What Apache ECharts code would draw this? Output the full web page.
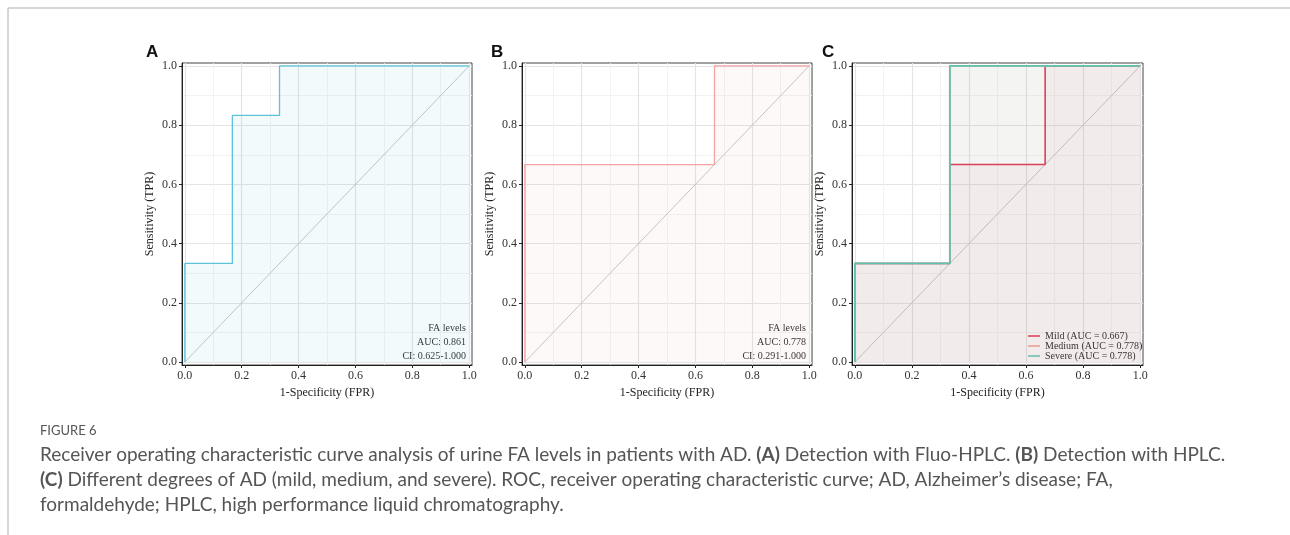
<!DOCTYPE html>
<html>
<head>
<meta charset="utf-8">
<script src="https://cdn.jsdelivr.net/npm/echarts@6.0.0/dist/echarts.min.js"></script>
<style>
  html, body { margin: 0; padding: 0; background: #fff; }
  #main { width: 1290px; height: 535px; }
</style>
</head>
<body>
<div id="main"></div>
<script>
// 刻度
var ticks = [0, 0.2, 0.4, 0.6, 0.8, 1.0];
var minorTicks = [0.1, 0.3, 0.5, 0.7, 0.9];

// A: Fluo-HPLC
var fprA = [0, 0, 0.167, 0.167, 0.333, 0.333, 1];
var tprA = [0, 0.333, 0.333, 0.833, 0.833, 1, 1];
// B: HPLC
var fprB = [0, 0, 0.667, 0.667, 1];
var tprB = [0, 0.667, 0.667, 1, 1];
// C: mild / medium / severe
var fprMild = [0, 0, 0.333, 0.333, 0.667, 0.667, 1];
var tprMild = [0, 0.333, 0.333, 0.667, 0.667, 1, 1];
var fprMedium = [0, 0, 0.333, 0.333, 1];
var tprMedium = [0, 0.333, 0.333, 1, 1];
var fprSevere = [0, 0, 0.333, 0.333, 1];
var tprSevere = [0, 0.333, 0.333, 1, 1];
var diag = [0, 1];

var legendNames = ['Mild (AUC = 0.667)', 'Medium (AUC = 0.778)', 'Severe (AUC = 0.778)'];
var notesA = ['FA levels', 'AUC: 0.861', 'CI: 0.625-1.000'];
var notesB = ['FA levels', 'AUC: 0.778', 'CI: 0.291-1.000'];

var serif = '"Liberation Serif", "Times New Roman", serif';
var sans = 'Lato, "Open Sans", sans-serif';

function pairs(xs, ys) {
    var out = [];
    for (var i = 0; i < xs.length; i++) out.push([xs[i], ys[i]]);
    return out;
}

var grids = [
    { left: 182, top: 63, width: 290, height: 302 },
    { left: 522, top: 63, width: 290, height: 302 },
    { left: 852, top: 63, width: 291, height: 302 }
];

var xAxes = [], yAxes = [];
// main axes
for (var g = 0; g < 3; g++) {
    xAxes.push({
        type: 'value', gridIndex: g, min: -0.01, max: 1.01,
        name: '1-Specificity (FPR)', nameLocation: 'middle', nameGap: 21,
        nameTextStyle: { fontFamily: serif, fontSize: 12, color: '#222' },
        axisLine: { show: true, onZero: false, lineStyle: { color: '#222', width: 1 } },
        axisTick: { show: true, customValues: ticks, length: 3, lineStyle: { color: '#222' } },
        axisLabel: { customValues: ticks, margin: 5, fontFamily: serif, fontSize: 12, color: '#333',
            formatter: function (v) { return v.toFixed(1); } },
        splitLine: { show: true, lineStyle: { color: '#e4e4e4', width: 1.2 } }
    });
    yAxes.push({
        type: 'value', gridIndex: g, min: -0.01, max: 1.01,
        name: 'Sensitivity (TPR)', nameLocation: 'middle', nameGap: 26,
        nameTextStyle: { fontFamily: serif, fontSize: 12, color: '#222' },
        axisLine: { show: true, onZero: false, lineStyle: { color: '#222', width: 1 } },
        axisTick: { show: true, customValues: ticks, length: 3, lineStyle: { color: '#222' } },
        axisLabel: { customValues: ticks, margin: 5, fontFamily: serif, fontSize: 12, color: '#333',
            formatter: function (v) { return v.toFixed(1); } },
        splitLine: { show: true, lineStyle: { color: '#e4e4e4', width: 1.2 } }
    });
}
// minor grid lines
for (var g = 0; g < 3; g++) {
    xAxes.push({
        type: 'value', gridIndex: g, min: -0.01, max: 1.01,
        axisLine: { show: false }, axisLabel: { show: false },
        axisTick: { show: false, customValues: minorTicks },
        splitLine: { show: true, lineStyle: { color: '#f0f0f0', width: 0.8 } }
    });
    yAxes.push({
        type: 'value', gridIndex: g, min: -0.01, max: 1.01,
        axisLine: { show: false }, axisLabel: { show: false },
        axisTick: { show: false, customValues: minorTicks },
        splitLine: { show: true, lineStyle: { color: '#f0f0f0', width: 0.8 } }
    });
}

function diagSeries(g) {
    return {
        type: 'line', xAxisIndex: g, yAxisIndex: g, silent: true, symbol: 'none',
        data: pairs(diag, diag), z: 3,
        lineStyle: { color: '#b8b8b8', width: 0.8 }
    };
}
function rocSeries(name, g, xs, ys, color, fill, z, w) {
    return {
        name: name, type: 'line', xAxisIndex: g, yAxisIndex: g, symbol: 'none', silent: true,
        data: pairs(xs, ys), z: z,
        lineStyle: { color: color, width: w },
        itemStyle: { color: color },
        areaStyle: { color: fill, origin: 'auto' }
    };
}

var series = [
    rocSeries('FA levels A', 0, fprA, tprA, '#5cc3dc', 'rgba(92,180,210,0.1)', 4, 1.3),
    diagSeries(0),
    rocSeries('FA levels B', 1, fprB, tprB, '#f4a3a3', 'rgba(240,140,130,0.07)', 4, 1.3),
    diagSeries(1),
    rocSeries(legendNames[0], 2, fprMild, tprMild, '#e0304e', 'rgba(224,64,90,0.07)', 4, 1.6),
    rocSeries(legendNames[1], 2, fprMedium, tprMedium, '#f4a08c', 'rgba(240,160,144,0.1)', 5, 1.8),
    rocSeries(legendNames[2], 2, fprSevere, tprSevere, '#5cc4b0', 'rgba(108,196,180,0.1)', 6, 1.8),
    diagSeries(2)
];

// 注释文字、面板字母、图注
var graphics = [
    { type: 'line', shape: { x1: 8, y1: 8, x2: 1290, y2: 8 }, style: { stroke: '#c8c8c8', lineWidth: 1.5 } },
    { type: 'line', shape: { x1: 8, y1: 8, x2: 8, y2: 535 }, style: { stroke: '#c8c8c8', lineWidth: 1.5 } }
];
var letters = [['A', 152], ['B', 497], ['C', 828]];
letters.forEach(function (l) {
    graphics.push({ type: 'text', left: l[1] - 6, top: 44,
        style: { text: l[0], font: 'bold 17px "Liberation Sans", Arial, sans-serif', fill: '#111' } });
});
function notes(list, right) {
    for (var i = 0; i < list.length; i++) {
        graphics.push({ type: 'text', x: right, y: 328 + i * 14,
            style: { text: list[i], font: '10px ' + serif, fill: '#333', align: 'right', verticalAlign: 'middle' } });
    }
}
notes(notesA, 466);
notes(notesB, 806);

var capRich = {
    n: { fontFamily: sans, fontSize: 19, color: '#555' },
    b: { fontFamily: sans, fontSize: 19, fontWeight: 'bold', color: '#444' }
};
graphics.push({ type: 'text', x: 40, y: 431,
    style: { text: 'FIGURE 6', font: '13px ' + sans, fill: '#555', verticalAlign: 'middle' } });
var capLines = [
    '{n|Receiver operating characteristic curve analysis of urine FA levels in patients with AD. }{b|(A)}{n| Detection with Fluo-HPLC. }{b|(B)}{n| Detection with HPLC.}',
    '{b|(C)}{n| Different degrees of AD (mild, medium, and severe). ROC, receiver operating characteristic curve; AD, Alzheimer\u2019s disease; FA,}',
    '{n|formaldehyde; HPLC, high performance liquid chromatography.}'
];
for (var i = 0; i < capLines.length; i++) {
    graphics.push({ type: 'text', x: 40, y: 455 + i * 25,
        style: { text: capLines[i], rich: capRich, fill: '#555', verticalAlign: 'middle' } });
}

var chart = echarts.init(document.getElementById('main'));
chart.setOption({
    animation: false,
    backgroundColor: '#fff',
    grid: grids.map(function (gr) {
        return { left: gr.left, top: gr.top, width: gr.width, height: gr.height,
            show: true, borderColor: '#444', borderWidth: 1, backgroundColor: '#fff' };
    }),
    xAxis: xAxes,
    yAxis: yAxes,
    legend: {
        data: legendNames, orient: 'vertical', left: 1028, top: 331, padding: 0, itemGap: 0,
        itemWidth: 12, itemHeight: 1.5, icon: 'rect', selectedMode: false,
        textStyle: { fontFamily: serif, fontSize: 10, color: '#222', lineHeight: 10 }
    },
    series: series,
    graphic: graphics
});
</script>
</body>
</html>
